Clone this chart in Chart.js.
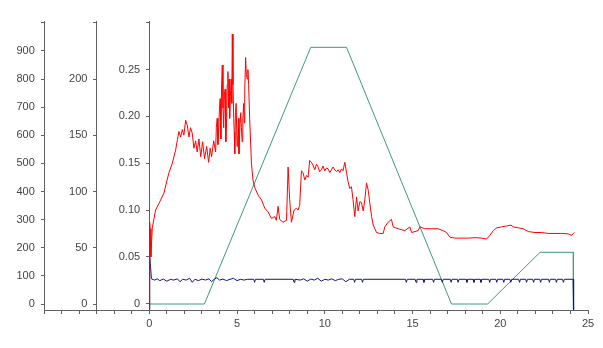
<!DOCTYPE html>
<html>
<head>
<meta charset="utf-8">
<script src="https://cdn.jsdelivr.net/npm/chart.js@4/dist/chart.umd.min.js"></script>
<style>
  html, body { margin: 0; padding: 0; background: #fff; }
  #wrap { width: 603px; height: 348px; }
</style>
</head>
<body>
<div id="wrap"><canvas id="chart" width="603" height="348"></canvas></div>
<script>
// red trace (right-hand 0..0.3 axis)
const redX = [
  0, 0.02, 0.05, 0.09, 0.17, 0.36, 0.55, 0.83, 1.12, 1.31,
  1.5, 1.6, 1.69, 1.79, 1.88, 1.97, 2.07, 2.17, 2.26, 2.35,
  2.45, 2.54, 2.64, 2.73, 2.83, 2.93, 3.04, 3.15, 3.27, 3.38,
  3.47, 3.55, 3.67, 3.78, 3.82, 3.87, 3.91, 3.95, 4.0, 4.04,
  4.08, 4.12, 4.16, 4.2, 4.24, 4.28, 4.32, 4.36, 4.41, 4.44,
  4.48, 4.52, 4.55, 4.58, 4.62, 4.67, 4.7, 4.73, 4.77, 4.81,
  4.84, 4.87, 4.91, 4.95, 5.0, 5.04, 5.08, 5.11, 5.16, 5.21,
  5.25, 5.29, 5.33, 5.38, 5.41, 5.44, 5.49, 5.53, 5.58, 5.62,
  5.66, 5.72, 5.82, 5.91,
  6.01, 6.2, 6.39, 6.58, 6.77, 6.96, 7.15, 7.24, 7.34, 7.43,
  7.62, 7.82, 7.91, 8.0, 8.1, 8.25, 8.39, 8.48, 8.57, 8.67,
  8.76, 8.86, 8.96, 9.05, 9.14, 9.24, 9.33, 9.43, 9.53, 9.62,
  9.71, 9.81, 9.9, 10.0, 10.1, 10.19, 10.29, 10.38, 10.47, 10.57,
  10.67, 10.76, 10.86, 10.95, 11.04, 11.14, 11.24, 11.33, 11.43, 11.52,
  11.61, 11.71, 11.81, 11.9, 12.0, 12.09, 12.19, 12.28, 12.38, 12.48,
  12.57, 12.67, 12.76, 12.95, 13.14, 13.33, 13.42, 13.61, 13.8, 13.9,
  14.18, 14.56, 14.85, 14.95, 15.32, 15.42, 15.7, 16.09, 16.46, 16.75,
  16.94, 17.13, 17.42, 17.8, 18.17, 18.56, 18.94, 19.22, 19.41, 19.6,
  19.8, 20.08, 20.37, 20.61, 20.74, 21.03, 21.31, 21.6, 21.98, 22.36,
  22.74, 23.12, 23.5, 23.88, 24.07, 24.22
];
const redY = [
  -0.007, 0.087, 0.08, 0.05, 0.081, 0.1, 0.107, 0.118, 0.14, 0.15,
  0.164, 0.175, 0.184, 0.178, 0.186, 0.18, 0.196, 0.19, 0.178, 0.188,
  0.182, 0.166, 0.174, 0.162, 0.176, 0.157, 0.173, 0.155, 0.168, 0.151,
  0.166, 0.157, 0.174, 0.162, 0.188, 0.198, 0.17, 0.183, 0.209, 0.219,
  0.176, 0.234, 0.255, 0.209, 0.188, 0.224, 0.229, 0.173, 0.198, 0.234,
  0.248, 0.209, 0.24, 0.198, 0.221, 0.24, 0.214, 0.288, 0.234, 0.198,
  0.183, 0.16, 0.204, 0.214, 0.168, 0.178, 0.198, 0.16, 0.188, 0.204,
  0.188, 0.173, 0.198, 0.214, 0.193, 0.229, 0.263, 0.245, 0.24, 0.25,
  0.234, 0.198, 0.15, 0.132,
  0.124, 0.116, 0.111, 0.102, 0.098, 0.091, 0.093, 0.089, 0.104, 0.09,
  0.087, 0.089, 0.146, 0.111, 0.087, 0.1, 0.102, 0.1, 0.105, 0.142,
  0.14, 0.132, 0.137, 0.135, 0.153, 0.151, 0.148, 0.143, 0.149, 0.146,
  0.141, 0.143, 0.147, 0.142, 0.145, 0.144, 0.14, 0.143, 0.146, 0.143,
  0.141, 0.143, 0.14, 0.144, 0.142, 0.151, 0.14, 0.13, 0.123, 0.125,
  0.111, 0.093, 0.114, 0.099, 0.109, 0.108, 0.099, 0.111, 0.129, 0.121,
  0.107, 0.093, 0.084, 0.076, 0.075, 0.075, 0.082, 0.087, 0.09, 0.082,
  0.08, 0.078, 0.082, 0.076, 0.078, 0.082, 0.08, 0.08, 0.08, 0.078,
  0.076, 0.071, 0.07, 0.07, 0.07, 0.0705, 0.07, 0.069, 0.073, 0.078,
  0.081, 0.082, 0.083, 0.084, 0.082, 0.081, 0.08, 0.077, 0.076, 0.076,
  0.075, 0.075, 0.075, 0.0745, 0.073, 0.076
];

// blue trace (middle 0..250 axis)
const blueX = [
  0, 0.02, 0.07, 0.12, 0.3, 0.45, 0.6, 0.8, 1.0, 1.2,
  1.4, 1.6, 1.75, 1.9, 2.1, 2.3, 2.45, 2.6, 2.8, 3.0,
  3.2, 3.4, 3.55, 3.7, 3.85, 4.0, 4.2, 4.4, 4.6, 4.8,
  5.0, 5.2, 5.4, 5.6, 5.95, 6.0, 6.05, 6.5, 6.55, 6.6,
  8.2, 8.25, 8.3, 8.6, 8.8, 9.0, 9.2, 9.4, 9.6, 9.8,
  10.0, 10.2, 10.4, 10.6, 10.8, 11.0, 11.2, 11.4, 11.65, 11.7,
  11.75, 12.1, 12.15, 12.2, 14.6, 14.65, 14.7, 15.15, 15.2, 15.25,
  15.6, 15.65, 15.7, 16.15, 16.2, 16.25, 16.65, 16.7, 16.75, 17.15,
  17.2, 17.25, 17.55, 17.6, 17.65, 18.05, 18.1, 18.15, 18.45, 18.5,
  18.55, 18.85, 18.9, 18.95, 19.35, 19.4, 19.45, 19.75, 19.8, 19.85,
  20.15, 20.2, 20.25, 20.55, 20.6, 20.65, 21.05, 21.1, 21.15, 21.45,
  21.5, 21.55, 21.85, 21.9, 21.95, 22.25, 22.3, 22.35, 22.75, 22.8,
  22.85, 23.15, 23.2, 23.25, 23.55, 23.6, 23.65, 24.15, 24.18
];
const blueY = [
  -5, 42, 33.6, 22.4, 21.3, 22.4, 20.8, 22.2, 20.3, 21.9,
  21.3, 22.4, 19.8, 22, 21.3, 22.9, 19.3, 22, 20.8, 22.2,
  21.3, 22.4, 19.8, 22, 23.4, 21.3, 22.2, 20.8, 22, 22.9,
  20.8, 22, 21.3, 22, 22, 19.3, 22, 22, 19.3, 22,
  22, 19.3, 22, 21.3, 22.4, 20.3, 22.2, 21.3, 22.9, 20.3,
  22, 21.3, 22.4, 20.8, 22, 22.4, 19.8, 22, 22, 19.3,
  22, 22, 19.3, 22, 22, 19.3, 22, 22, 19.3, 22,
  22, 19.3, 22, 22, 19.3, 22, 22, 19.3, 22, 22,
  19.3, 22, 22, 19.3, 22, 22, 19.3, 22, 22, 19.3,
  22, 22, 19.3, 22, 22, 19.3, 22, 22, 19.3, 22,
  22, 19.3, 22, 22, 19.3, 22, 22, 19.3, 22, 22,
  19.3, 22, 22, 19.3, 22, 22, 19.3, 22, 22, 19.3,
  22, 22, 19.3, 22, 22, 19.3, 22, 22, -5
];

// green profile (left 0..1000 axis)
const greenX = [0, 3.14, 9.2, 11.24, 17.22, 19.28, 22.27, 24.16, 24.17];
const greenY = [0, 0, 913, 913, 0, 0, 184, 184, -21];

const axisColor = '#606060';
const labelColor = '#444444';
const tickFont = { family: '"Liberation Sans", Arial, sans-serif', size: 11 };

const pts = (xs, ys) => xs.map((x, i) => ({ x: x, y: ys[i] }));

// y axes sit at x = -6, -3 and 0 of the time axis; labels get a little gap
const pad = '   ';
function yAxis(at, min, max, top, step, fmt) {
  return {
    type: 'linear',
    position: { x: at },
    min: min, max: max,
    ticks: {
      stepSize: step,
      includeBounds: false,
      color: labelColor,
      font: tickFont,
      callback: v => (v > top - step / 2 ? '' : fmt(v) + pad)
    },
    grid: { drawOnChartArea: false, tickLength: 3, color: axisColor },
    border: { color: axisColor }
  };
}

new Chart(document.getElementById('chart'), {
  type: 'line',
  data: {
    datasets: [
      {
        data: pts(redX, redY), yAxisID: 'y3',
        borderColor: '#ff0000', borderWidth: 1, pointRadius: 0, tension: 0
      },
      {
        data: pts(blueX, blueY), yAxisID: 'y2',
        borderColor: '#121280', borderWidth: 1, pointRadius: 0, tension: 0
      },
      {
        data: pts(greenX, greenY), yAxisID: 'y1',
        borderColor: '#3d9b7a', borderWidth: 1, pointRadius: 0, tension: 0
      }
    ]
  },
  options: {
    responsive: false,
    animation: false,
    devicePixelRatio: 1,
    layout: { padding: { left: 44, right: 15, top: 21, bottom: 14 } },
    plugins: { legend: { display: false }, tooltip: { enabled: false } },
    scales: {
      x: {
        type: 'linear', position: 'bottom',
        min: -6, max: 25,
        afterFit: s => { s.height = 24; },
        ticks: {
          stepSize: 1, autoSkip: false, maxRotation: 0, padding: 3,
          color: labelColor, font: tickFont,
          callback: v => (v >= 0 && v % 5 === 0 ? String(v) : '')
        },
        grid: { drawOnChartArea: false, tickLength: 4, color: axisColor },
        border: { color: axisColor }
      },
      y1: yAxis(-6, -21.3, 1006.7, 1000, 100, v => String(v)),
      y2: yAxis(-3, -5.3, 251.6, 250, 50, v => String(v)),
      y3: yAxis(0, -0.0068, 0.302, 0.3, 0.05, v => (Math.abs(v) < 1e-9 ? '0' : v.toFixed(2)))
    }
  }
});
</script>
</body>
</html>
